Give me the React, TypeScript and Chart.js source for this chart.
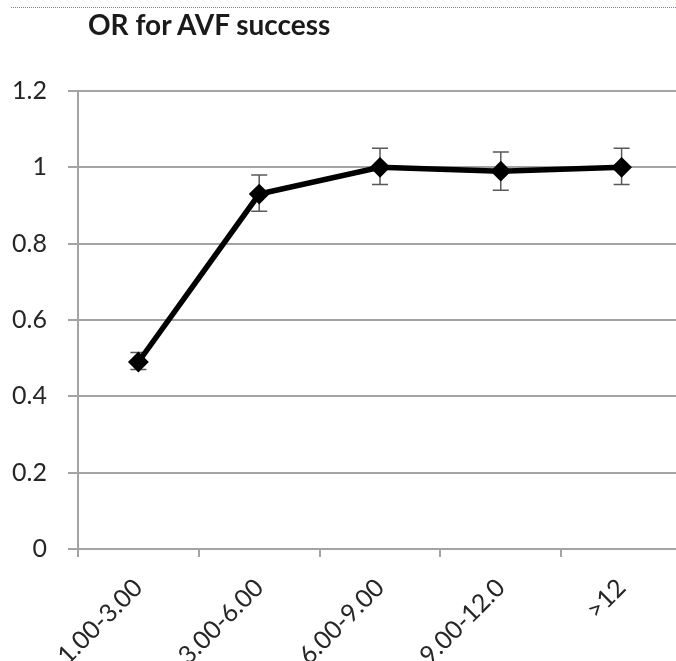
import { useEffect, useRef } from "react";
import { Chart, registerables } from "chart.js";

Chart.register(...registerables);

// Duration bands and odds ratio with confidence interval
const categories = ["1.00-3.00", "3.00-6.00", "6.00-9.00", "9.00-12.0", ">12"];
const oddsRatio = [0.49, 0.93, 1.0, 0.99, 1.0];
const ciLower = [0.47, 0.885, 0.955, 0.94, 0.955];
const ciUpper = [0.515, 0.98, 1.05, 1.04, 1.05];
const yTickValues = [0, 0.2, 0.4, 0.6, 0.8, 1, 1.2];

const FONT = "Lato, 'Open Sans', sans-serif";
const GRID = "#a3a3a3";
const TEXT = "#262626";

// Vertical error bars with caps, drawn under the line and markers
const errorBars = {
  id: "errorBars",
  beforeDatasetsDraw(chart: any) {
    const { ctx } = chart;
    const x = chart.scales.x;
    const y = chart.scales.y;
    ctx.save();
    ctx.strokeStyle = "#595959";
    ctx.lineWidth = 1.5;
    categories.forEach((_, i) => {
      const px = x.getPixelForValue(i);
      const top = y.getPixelForValue(ciUpper[i]);
      const bot = y.getPixelForValue(ciLower[i]);
      ctx.beginPath();
      ctx.moveTo(px, top);
      ctx.lineTo(px, bot);
      ctx.moveTo(px - 8, top);
      ctx.lineTo(px + 8, top);
      ctx.moveTo(px - 8, bot);
      ctx.lineTo(px + 8, bot);
      ctx.stroke();
    });
    ctx.restore();
  },
};

export default function App() {
  const canvasRef = useRef<HTMLCanvasElement>(null);

  useEffect(() => {
    if (!canvasRef.current) return;
    const chart = new Chart(canvasRef.current, {
      type: "line",
      data: {
        labels: categories,
        datasets: [
          {
            data: oddsRatio,
            borderColor: "#000",
            backgroundColor: "#000",
            borderWidth: 5.5,
            pointStyle: "rectRot",
            pointRadius: 9,
            pointBorderWidth: 2,
            pointBackgroundColor: "#000",
            pointBorderColor: "#000",
            tension: 0,
          },
        ],
      },
      options: {
        responsive: false,
        animation: false,
        layout: { padding: { top: 91, right: 19, left: 0, bottom: 0 } },
        plugins: {
          legend: { display: false },
          tooltip: { enabled: false },
          title: { display: false },
        },
        scales: {
          x: {
            type: "category",
            offset: true,
            grid: {
              display: true,
              drawOnChartArea: false,
              drawTicks: true,
              tickLength: 8,
              color: GRID,
              lineWidth: 2,
              offset: true,
            },
            border: { color: GRID, width: 2 },
            ticks: {
              font: { family: FONT, size: 25 },
              color: TEXT,
              maxRotation: 45,
              minRotation: 45,
              padding: 16,
            },
            afterFit: (s: any) => {
              s.height = 171;
            },
          },
          y: {
            min: 0,
            max: 1.2,
            afterBuildTicks: (s: any) => {
              s.ticks = yTickValues.map((v) => ({ value: v }));
            },
            ticks: {
              font: { family: FONT, size: 25 },
              color: TEXT,
              padding: 21,
              callback: (v: any) => String(Math.round(Number(v) * 10) / 10),
            },
            grid: { color: GRID, lineWidth: 2, tickLength: 10 },
            border: { color: GRID, width: 2 },
            afterFit: (s: any) => {
              s.width = 67;
            },
          },
        },
      },
      plugins: [errorBars],
    });
    return () => chart.destroy();
  }, []);

  return (
    <div
      style={{
        position: "absolute",
        left: 0,
        top: 0,
        width: 676,
        height: 661,
        overflow: "hidden",
        background: "#fff",
      }}
    >
      <div
        style={{
          position: "absolute",
          left: 11,
          right: 0,
          top: 7,
          height: 0,
          borderTop: "1px dotted #8c7a9a",
        }}
      />
      <div
        style={{
          position: "absolute",
          left: 11,
          top: 0,
          width: 690,
          height: 720,
        }}
      >
        <canvas ref={canvasRef} width={690} height={720} style={{ width: 690, height: 720, display: "block" }} />
      </div>
      <div
        style={{
          position: "absolute",
          left: 88,
          top: 10,
          fontFamily: FONT,
          fontWeight: 700,
          fontSize: 28,
          lineHeight: 1,
          color: "#1a1a1a",
          whiteSpace: "nowrap",
        }}
      >
        OR for AVF success
      </div>
    </div>
  );
}
